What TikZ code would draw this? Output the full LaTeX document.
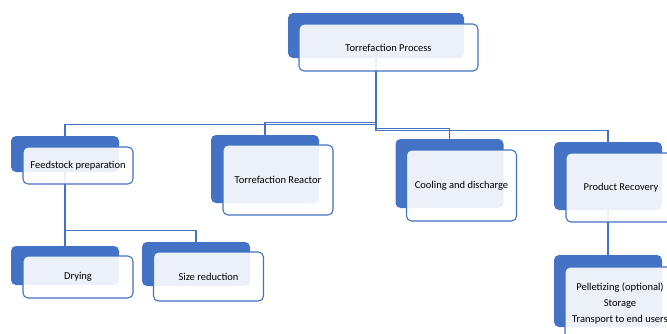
\documentclass[tikz,border=0pt]{standalone}
\usepackage{fontspec}
\setmainfont{Carlito}
\usepackage{tikz}
\usetikzlibrary{calc, positioning}
\definecolor{boxblue}{HTML}{4472C4}
\pgfdeclarelayer{links}
\pgfsetlayers{links,main}

\begin{document}
\begin{tikzpicture}[x=1pt, y=-1pt,
		backbox/.style = {fill=boxblue, rounded corners=5pt, minimum width=108pt, inner sep=0pt},
		frontbox/.style = {draw=boxblue, line width=1.1pt, fill=white, fill opacity=0.9, text opacity=1,
			rounded corners=5pt, minimum width=110pt, inner sep=0pt, align=center,
			font=\fontsize{10.5}{16}\selectfont},
		link/.style = {draw=boxblue, line width=1.3pt}]
				
				\useasboundingbox (0,0) rectangle (667,333);
				
				% top
				\node[backbox, minimum width=176pt, minimum height=45pt] (topb) at (376,35.5) {};
				\node[frontbox, minimum width=179pt, minimum height=47pt] (top) at ($(topb)+(12.5,12)$) {Torrefaction Process};
				
				% second row
				\node[backbox, minimum height=36pt] (feedb) at (65,154) {};
				\node[frontbox, minimum height=37pt] (feed) at ($(feedb)+(13,11.5)$) {Feedstock preparation};
				\node[backbox, minimum height=68pt] (reacb) at (265,169) {};
				\node[frontbox, minimum height=70pt] (reac) at ($(reacb)+(13,11)$) {Torrefaction Reactor};
				\node[backbox, minimum height=69pt] (coolb) at (449.5,173.5) {};
				\node[frontbox, minimum height=71pt] (cool) at ($(coolb)+(12,12)$) {Cooling and discharge};
				\node[backbox, minimum height=68pt] (prodb) at (608,176) {};
				\node[frontbox, minimum height=69pt] (prod) at ($(prodb)+(13,11.5)$) {Product Recovery};
				
				% third row
				\node[backbox, minimum height=39pt] (dryb) at (65,265.5) {};
				\node[frontbox, minimum height=42pt] (dry) at ($(dryb)+(13,11.5)$) {Drying};
				\node[backbox, minimum height=44pt] (sizeb) at (196,264) {};
				\node[frontbox, minimum height=49pt] (size) at ($(sizeb)+(12.5,12.5)$) {Size reduction};
				\node[backbox, minimum height=72pt] (pelb) at (608,291) {};
				\node[frontbox, minimum height=72pt] (pel) at ($(pelb)+(12,12)$) {Pelletizing (optional)\\Storage\\Transport to end users};
				
				\begin{pgfonlayer}{links}
					\draw[link] (topb.south) |- ($(feedb.north)+(0,-11)$) -- (feedb.north);
					\draw[link] (topb.south) |- ($(reacb.north)+(0,-12)$) -- (reacb.north);
					\draw[link] (topb.south) |- ($(coolb.north)+(0,-10)$) -- (coolb.north);
					\draw[link] (topb.south) |- ($(prodb.north)+(0,-11)$) -- (prodb.north);
					\draw[link] (feedb.south) -- (dryb.north);
					\draw[link] (feedb.south) |- ($(sizeb.north)+(0,-11)$) -- (sizeb.north);
					\draw[link] (prodb.south) -- (pelb.north);
				\end{pgfonlayer}
			\end{tikzpicture}
\end{document}
